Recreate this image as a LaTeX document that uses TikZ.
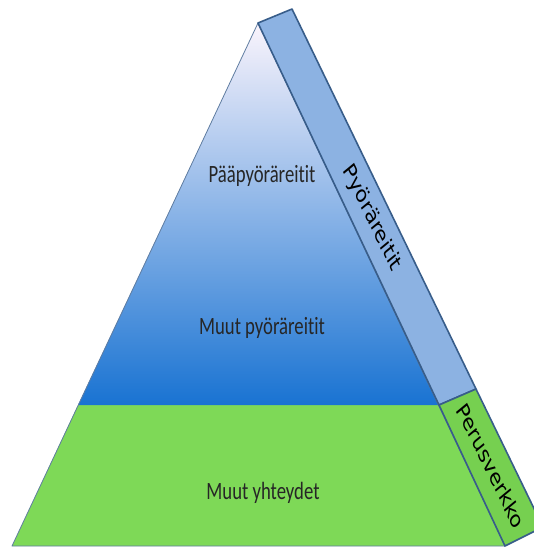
\documentclass[tikz,border=0pt]{standalone}
\usepackage{fontspec}
\setmainfont[Ligatures=NoCommon]{Carlito}
\newfontfamily\bandfont{DejaVu Sans}
\usetikzlibrary{positioning,calc}
\definecolor{TopWhite}{RGB}{250,244,252}
\definecolor{MidBlue}{RGB}{155,208,252}
\definecolor{LowBlue}{RGB}{25,115,210}
\definecolor{BaseGreen}{RGB}{126,217,87}
\definecolor{BandBlue}{RGB}{140,178,226}
\definecolor{BandGreen}{RGB}{118,208,80}
\definecolor{EdgeBlue}{RGB}{56,93,138}
\tikzset{
  band/.style={draw=EdgeBlue,line width=1.6pt,line join=round},
  rim/.style={draw=EdgeBlue!80,line width=0.8pt,line join=round},
  level/.style={font=\fontsize{18.7}{22}\selectfont,text=black!85},
  bandtext/.style={font=\bandfont\fontsize{18}{22}\selectfont,transform shape,rotate=-57.6},
}
\newcommand{\tall}[1]{\scalebox{1}[1.33]{#1}}

\begin{document}
\begin{tikzpicture}[x=1pt,y=-1pt]
\useasboundingbox (0,0) rectangle (533,549);
\coordinate (apex) at (258,23);
\coordinate (bl) at (12,546);
\coordinate (br) at (505,546);
\coordinate (ml) at (78,405);
\coordinate (mr) at (439,405);
\coordinate (apexo) at (292,9);
\coordinate (mro) at (476,389);
\coordinate (bro) at (543,527);
% green base and shaded top
\fill[BaseGreen] (ml) -- (mr) -- (br) -- (bl) -- cycle;
\shade[top color=TopWhite,middle color=MidBlue,bottom color=LowBlue]
  (apex) -- (mr) -- (ml) -- cycle;
\draw[rim] (apex) -- (br) -- (bl) -- cycle;
% side bands
\draw[band,fill=BandBlue] (apex) -- (apexo) -- (mro) -- (mr) -- cycle;
\draw[band,fill=BandGreen] (mr) -- (mro) -- (bro) -- (br) -- cycle;
\node[level] (main) at (262,176) {\tall{Pääpyöräreitit}};
\node[level] (other) at (262,328) {\tall{Muut pyöräreitit}};
\node[level] (links) at (263,493) {\tall{Muut yhteydet}};
% band labels, stretched like the rest
\begin{scope}[shift={(372,218)},yscale=1.3]
  \node[bandtext] (cycle) at (0,0) {Pyöräreitit};
\end{scope}
\begin{scope}[shift={(491,466)},yscale=1.3]
  \node[bandtext] (basic) at (0,0) {Perusverkko};
\end{scope}
\end{tikzpicture}
\end{document}
